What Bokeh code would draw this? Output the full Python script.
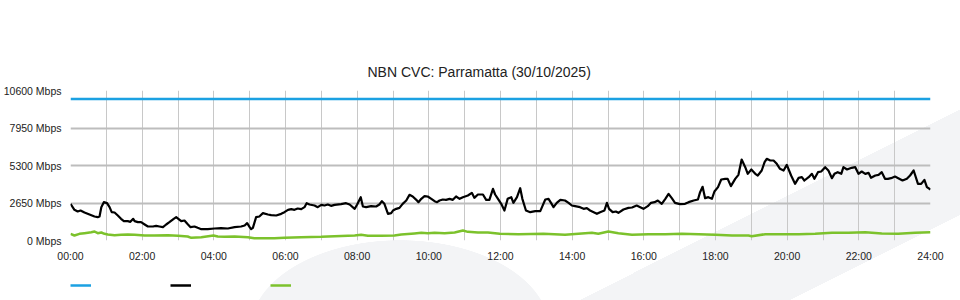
from bokeh.plotting import figure
from bokeh.layouts import column
from bokeh.models import (FixedTicker, Grid, Legend, LegendItem, Range1d)
from bokeh.embed import file_html
from bokeh.resources import INLINE

title_text = "NBN CVC: Parramatta (30/10/2025)"

cap_hours = [0, 24]
cap_mbps = [10000, 10000]

black_hours = [0, 0.11, 0.2, 0.28, 0.39, 0.53, 0.67, 0.76, 0.81, 0.86, 0.93, 1.02, 1.09, 1.15, 1.23, 1.32,
               1.41, 1.49, 1.6, 1.67, 1.75, 1.79, 1.88, 1.97, 2.07, 2.16, 2.3, 2.39, 2.48, 2.58, 2.67, 2.76,
               2.88, 2.95, 3.01, 3.09, 3.18, 3.26, 3.35, 3.46, 3.55, 3.65, 3.83, 4.02, 4.2, 4.39, 4.58, 4.76,
               4.86, 4.93, 5.0, 5.04, 5.09, 5.18, 5.27, 5.37, 5.51, 5.6, 5.74, 5.88, 5.97, 6.07, 6.16, 6.25,
               6.34, 6.44, 6.53, 6.59, 6.67, 6.81, 6.9, 7.0, 7.09, 7.18, 7.27, 7.37, 7.55, 7.69, 7.79, 7.93,
               8.0, 8.1, 8.16, 8.25, 8.39, 8.53, 8.62, 8.69, 8.76, 8.86, 8.95, 9.0, 9.09, 9.18, 9.27, 9.37,
               9.46, 9.55, 9.65, 9.71, 9.79, 9.88, 9.97, 10.07, 10.16, 10.23, 10.3, 10.39, 10.48, 10.58, 10.67,
               10.76, 10.86, 10.95, 11.09, 11.2, 11.27, 11.37, 11.51, 11.6, 11.69, 11.79, 11.85, 11.93,
               12.02, 12.11, 12.2, 12.3, 12.36, 12.46, 12.55, 12.61, 12.71, 12.83, 12.97, 13.11, 13.17, 13.25,
               13.34, 13.41, 13.48, 13.57, 13.67, 13.8, 13.9, 13.99, 14.08, 14.22, 14.32, 14.41, 14.5, 14.6,
               14.69, 14.78, 14.9, 14.97, 15.03, 15.13, 15.22, 15.29, 15.43, 15.57, 15.67, 15.8, 15.9, 15.99,
               16.11, 16.2, 16.3, 16.39, 16.5, 16.6, 16.69, 16.78, 16.87, 17.01, 17.15, 17.25, 17.39, 17.51,
               17.57, 17.64, 17.71, 17.8, 17.9, 17.97, 18.07, 18.16, 18.27, 18.34, 18.43, 18.55, 18.64, 18.73,
               18.83, 18.9, 19.0, 19.11, 19.18, 19.29, 19.37, 19.43, 19.53, 19.62, 19.71, 19.8, 19.9, 19.99,
               20.11, 20.22, 20.32, 20.41, 20.48, 20.6, 20.69, 20.76, 20.86, 20.95, 21.06, 21.15, 21.25, 21.32,
               21.41, 21.51, 21.57, 21.67, 21.8, 21.9, 21.99, 22.08, 22.18, 22.27, 22.34, 22.46, 22.55, 22.64,
               22.73, 22.81, 22.9, 23.01, 23.1, 23.22, 23.34, 23.43, 23.53, 23.65, 23.74, 23.83, 23.9, 24.0]
black_mbps = [2591, 2167, 2049, 2120, 1979, 1837, 1696, 1649, 1696, 2355, 2709, 2638, 2355, 2002, 1979, 1767,
              1531, 1366, 1366, 1319, 1531, 1366, 1295, 1295, 1131, 989, 989, 1036, 989, 942, 1131, 1295,
              1531, 1649, 1531, 1366, 1413, 1178, 942, 989, 895, 801, 801, 848, 872, 848, 942, 989,
              1060, 1225, 942, 801, 895, 1649, 1696, 1931, 1837, 1790, 1767, 1884, 2002, 2167, 2214, 2167,
              2261, 2214, 2355, 2638, 2544, 2473, 2355, 2520, 2473, 2544, 2450, 2520, 2568, 2638, 2544, 2238,
              2544, 3062, 2403, 2355, 2427, 2403, 2544, 2780, 2591, 1884, 1931, 2120, 2238, 2308, 2591, 2827,
              3227, 3109, 2874, 2709, 2944, 3133, 3109, 2944, 2780, 2709, 2827, 2897, 2874, 2944, 2874,
              3109, 2944, 3062, 3180, 3368, 3015, 3251, 3251, 2874, 2874, 3651, 3251, 2944,
              2591, 2120, 2944, 3062, 2661, 3062, 3698, 2944, 2120, 2002, 2073, 2073, 2426, 2897,
              2944, 2661, 2355, 2661, 2873, 2826, 2661, 2473, 2426, 2355, 2237, 2284, 2120, 2002,
              1884, 2002, 2120, 2661, 2237, 2002, 2049, 1955, 2190, 2308, 2332, 2473, 2355, 2237,
              2426, 2661, 2709, 2826, 2590, 2944, 3297, 2991, 2661, 2567, 2591, 2709, 2826, 2897,
              3415, 3792, 2991, 3062, 2944, 3462, 3769, 4310, 4357, 4357, 3839, 4357, 4640, 5724,
              5182, 4711, 5017, 4711, 4593, 4946, 5535, 5771, 5653, 5653, 5417, 5064, 4946, 5347,
              4593, 4004, 4428, 4475, 4240, 4475, 4711, 4357, 4829, 4876, 5182, 4946, 4405, 4711,
              4829, 4711, 5182, 5017, 5135, 5182, 4711, 4876, 4711, 4781, 4428, 4593, 4640, 4829,
              4357, 4357, 4405, 4522, 4405, 4240, 4357, 4593, 4946, 4004, 4004, 4288, 3769, 3604]

green_hours = [0, 0.11, 0.25, 0.39, 0.58, 0.67, 0.76, 0.86, 0.95, 1.04, 1.23, 1.41, 1.6, 1.79, 2.07, 2.34,
               2.72, 3.0, 3.27, 3.37, 3.65, 3.99, 4.11, 4.3, 4.58, 4.95, 5.13, 5.69, 5.97, 6.44, 7.0, 7.37,
               7.93, 8.11, 8.3, 8.67, 9.04, 9.23, 9.6, 9.79, 9.97, 10.16, 10.44, 10.72, 10.95, 11.09, 11.37,
               11.65, 11.98, 12.5, 13.2, 13.8, 14.55, 14.73, 15.01, 15.29, 15.67, 16.13, 16.6, 17.06, 17.53,
               17.99, 18.46, 18.92, 19.01, 19.39, 19.85, 20.32, 20.78, 21.25, 21.71, 22.18, 22.64, 23.1,
               23.57, 24.0]
green_mbps = [471, 353, 471, 518, 589, 636, 518, 565, 471, 424, 377, 400, 424, 400, 353, 353,
              377, 330, 282, 188, 235, 353, 282, 259, 282, 235, 165, 165, 188, 235, 259, 306,
              353, 400, 330, 330, 353, 424, 495, 542, 518, 542, 518, 565, 707, 612, 565,
              565, 471, 447, 471, 400, 541, 471, 636, 518, 400, 447, 447, 471, 447,
              400, 353, 353, 306, 447, 447, 447, 471, 541, 541, 589, 494, 471,
              541, 589]

x_tick_hours = [0, 2, 4, 6, 8, 10, 12, 14, 16, 18, 20, 22, 24]
x_tick_labels = ["00:00", "02:00", "04:00", "06:00", "08:00", "10:00", "12:00",
                 "14:00", "16:00", "18:00", "20:00", "22:00", "24:00"]
x_grid_hours = list(range(0, 25))
y_tick_values = [0, 2650, 5300, 7950, 10600]
y_tick_labels = ["0 Mbps", "2650 Mbps", "5300 Mbps", "7950 Mbps", "10600 Mbps"]

FONT = "Liberation Sans"
SWOOSH = "#f3f4f6"
C_CAP, C_BLACK, C_GREEN = "#1ba1e2", "#000000", "#7cc22c"

p = figure(width=960, height=270, output_backend="svg", toolbar_location=None,
           x_range=Range1d(0, 24), y_range=Range1d(0, 10600),
           min_border_left=70, min_border_right=30, min_border_top=90, min_border_bottom=30)
p.background_fill_alpha = 0
p.border_fill_alpha = 0
p.outline_line_color = None

# title
p.title.text = title_text
p.title.align = "left"
p.title.offset = 297
p.title.standoff = 22
p.title.text_font = FONT
p.title.text_font_size = "14px"
p.title.text_font_style = "normal"
p.title.text_color = "#222222"

# axes
p.xaxis.ticker = FixedTicker(ticks=x_tick_hours)
p.xaxis.major_label_overrides = {h: l for h, l in zip(x_tick_hours, x_tick_labels)}
p.yaxis.ticker = FixedTicker(ticks=y_tick_values)
p.yaxis.major_label_overrides = {v: l for v, l in zip(y_tick_values, y_tick_labels)}
for ax in (p.xaxis[0], p.yaxis[0]):
    ax.axis_line_color = None
    ax.major_tick_line_color = None
    ax.minor_tick_line_color = None
    ax.major_tick_in = 0
    ax.major_tick_out = 0
    ax.major_label_text_font = FONT
    ax.major_label_text_font_size = "10.5px"
    ax.major_label_text_color = "#222222"
    ax.major_label_standoff = 9

# grids
p.xgrid.ticker = FixedTicker(ticks=x_grid_hours)
p.xgrid.grid_line_color = "#c8c8c8"
p.xgrid.grid_line_width = 1
p.ygrid.ticker = FixedTicker(ticks=[2650, 5300, 7950])
p.ygrid.grid_line_color = "#bdbdbd"
p.ygrid.grid_line_width = 2
p.add_layout(Grid(dimension=1, ticker=FixedTicker(ticks=[10600]), grid_line_color="#c8c8c8", grid_line_width=1))

# series
p.line(cap_hours, cap_mbps, line_color=C_CAP, line_width=2.5)
p.line(black_hours, black_mbps, line_color=C_BLACK, line_width=2.2, line_join="round")
p.line(green_hours, green_mbps, line_color=C_GREEN, line_width=2.5, line_join="round")

# legend strip (swatches only, as in the original); proxy renderers fall outside its 0..1 ranges
lf = figure(width=960, height=30, output_backend="svg", toolbar_location=None,
            x_range=Range1d(0, 1), y_range=Range1d(0, 1), x_axis_type=None, y_axis_type=None,
            min_border=0)
lf.background_fill_alpha = 0
lf.border_fill_alpha = 0
lf.outline_line_color = None
lf.xgrid.visible = False
lf.ygrid.visible = False
l_cap = lf.line(cap_hours, cap_mbps, line_color=C_CAP, line_width=2.5)
l_black = lf.line(black_hours, black_mbps, line_color=C_BLACK, line_width=2.5)
l_green = lf.line(green_hours, green_mbps, line_color=C_GREEN, line_width=2.5)
legend = Legend(items=[LegendItem(label=" ", renderers=[l_cap]),
                       LegendItem(label=" ", renderers=[l_black]),
                       LegendItem(label=" ", renderers=[l_green])],
                orientation="horizontal", location="top_left",
                glyph_width=21, glyph_height=30, label_height=30, label_width=79,
                label_standoff=0, spacing=0, padding=0, margin=0,
                border_line_color=None, background_fill_alpha=0,
                label_text_font_size="6px")
lf.add_layout(legend, "center")

layout = column(p, lf, spacing=0)
# decorative watermark swoosh painted behind the transparent canvases
layout.styles = {
    "background-color": "white",
    "background-image": (
        f"linear-gradient(153.4deg, rgba(255,255,255,0) 75.6%, {SWOOSH} 75.6%, {SWOOSH} 89.1%, rgba(255,255,255,0) 89.1%), "
        f"radial-gradient(ellipse 150px 90px at 400px 330px, {SWOOSH} 99.5%, rgba(255,255,255,0) 100%)"
    ),
}

open("out.html", "w").write(file_html(layout, INLINE))
